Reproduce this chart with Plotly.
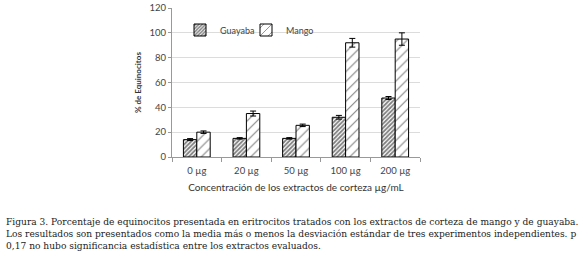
import plotly.graph_objects as go

categories = ["0 µg", "20 µg", "50 µg", "100 µg", "200 µg"]
guayaba = [14, 15, 15, 32, 47.5]
guayaba_err = [0.8, 0.6, 0.6, 1.5, 1.2]
mango = [20, 35, 25.5, 92, 95]
mango_err = [1.0, 2.0, 1.0, 3.5, 5.0]
y_ticks = [0, 20, 40, 60, 80, 100, 120]

L, R, T, B = 172, 160, 8, 97
W, H = 580, 254
pw = W - L - R
ph = H - T - B

def px(x):
    return (x - L) / pw

def py(y):
    return (H - B - y) / ph

fig = go.Figure()
fig.add_trace(go.Bar(
    name="Guayaba", x=categories, y=guayaba, legend="legend", showlegend=True,
    error_y=dict(type="data", array=guayaba_err, color="black", thickness=1, width=3),
    marker=dict(color="white", line=dict(color="black", width=1),
                pattern=dict(shape="/", size=3, solidity=0.6, fgcolor="black", bgcolor="white")),
))
fig.add_trace(go.Bar(
    name="Mango", x=categories, y=mango, legend="legend2", showlegend=True,
    error_y=dict(type="data", array=mango_err, color="black", thickness=1, width=3),
    marker=dict(color="white", line=dict(color="black", width=1),
                pattern=dict(shape="/", size=7, solidity=0.15, fgcolor="black", bgcolor="white")),
))

caption = ("Figura 3. Porcentaje de equinocitos presentada en eritrocitos tratados con los extractos de corteza de mango y de guayaba.<br>"
           "Los resultados son presentados como la media más o menos la desviación estándar de tres experimentos independientes. p<br>"
           "0,17 no hubo significancia estadística entre los extractos evaluados.")

fig.add_annotation(
    text=caption, xref="paper", yref="paper", x=px(4), y=py(215),
    xanchor="left", yanchor="top", align="left", showarrow=False,
    font=dict(family="DejaVu Serif", size=9.1, color="#222"),
)

leg_common = dict(orientation="h", yanchor="middle", xanchor="left",
                  font=dict(size=9, color="#444"), bgcolor="rgba(0,0,0,0)",
                  itemwidth=30, borderwidth=0)

fig.update_layout(
    width=W, height=H, showlegend=True,
    margin=dict(l=L, r=R, t=T, b=B, pad=0),
    paper_bgcolor="white", plot_bgcolor="white",
    barmode="group", bargap=0.46, bargroupgap=0.0,
    font=dict(family="Lato", size=9, color="#444"),
    legend=dict(x=px(180), y=py(30), **leg_common),
    legend2=dict(x=px(246), y=py(30), **leg_common),
    xaxis=dict(showline=True, linecolor="#999", linewidth=1, automargin=False,
               ticks="outside", tickson="boundaries", ticklen=4, tickcolor="#999",
               ticklabelstandoff=5,
               tickfont=dict(size=9.5, color="#444"),
               title=dict(text="Concentración de los extractos de corteza µg/mL",
                          font=dict(size=10, color="#333"), standoff=8)),
    yaxis=dict(range=[0, 120], tickvals=y_ticks, showgrid=True, gridcolor="#dcdcdc",
               showline=True, linecolor="#999", linewidth=1, automargin=False,
               ticks="outside", ticklen=3, tickcolor="#999",
               tickfont=dict(size=9.5, color="#444"), zeroline=False,
               title=dict(text="<b>% de Equinocitos</b>", font=dict(size=8, color="#333"), standoff=6)),
)

fig.write_html("out.html", post_script="document.body.style.margin='0';",
               config={"displayModeBar": False})
